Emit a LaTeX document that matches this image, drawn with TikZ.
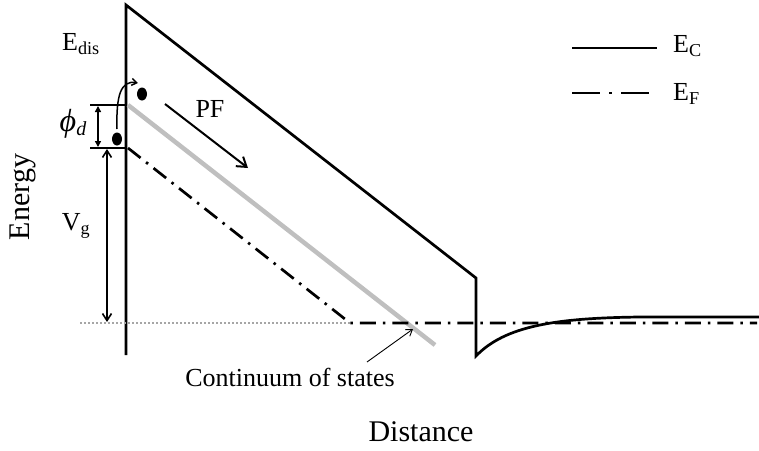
\documentclass[tikz,border=0pt]{standalone}
\usepackage{fontspec}
\setmainfont{Liberation Serif}
\usetikzlibrary{arrows.meta}
\begin{document}
\begin{tikzpicture}[x=1pt,y=-1pt,
  band/.style={line width=2.7pt,line join=miter},
  fermi/.style={line width=2.7pt,dash pattern=on 16pt off 7pt on 2.5pt off 7pt},
  dim/.style={line width=1.8pt},
  lbl/.style={inner sep=0pt,font=\fontsize{26}{28}\selectfont},
  axis/.style={inner sep=0pt,font=\fontsize{30}{32}\selectfont},
  electron/.style={fill=black,draw=none}]
\useasboundingbox (0,0) rectangle (759,450);
% coordinates
\coordinate (wb) at (126,355);
\coordinate (wt) at (126,5);
\coordinate (ecr) at (476,278);
\coordinate (ecb) at (476,356);
\coordinate (ecend) at (759,317);
\coordinate (gs) at (128,105);
\coordinate (ge) at (435,345);
\coordinate (efs) at (128,148);
\coordinate (efk) at (350,323);
\coordinate (efe) at (757,323);
\coordinate (dots) at (80,323);
% conduction band edge
\draw[band] (wb) -- (wt) -- (ecr) -- (ecb) .. controls (505,326) and (555,318) .. (640,317) -- (ecend);
% continuum of states (grey)
\draw[line width=4.5pt,black!25] (gs) -- (ge);
% Fermi level
\draw[gray!70,line width=1.3pt,dash pattern=on 2pt off 2pt] (dots) -- (efk);
\draw[fermi] (efs) -- (efk) -- (efe);
% phi_d dimension
\coordinate (t1a) at (90,105); \coordinate (t1b) at (126,105);
\coordinate (t2a) at (90,148); \coordinate (t2b) at (126,148);
\draw[dim] (t1a) -- (t1b);
\draw[dim] (t2a) -- (t2b);
\coordinate (pa) at (98,106); \coordinate (pb) at (98,147);
\draw[line width=2pt,{Triangle[length=6pt,width=6pt]}-{Triangle[length=6pt,width=6pt]}] (pa) -- (pb);
% Vg dimension
\coordinate (va) at (107,149); \coordinate (vb) at (107,322);
\draw[line width=1.6pt,{Straight Barb[length=7pt,width=9pt]}-{Straight Barb[length=7pt,width=9pt]}] (va) -- (vb);
% electrons
\fill[electron] (142,94) ellipse (5pt and 6.5pt);
\fill[electron] (117,139) ellipse (5pt and 6.5pt);
\coordinate (ca) at (117,129); \coordinate (cb) at (138,83);
\draw[line width=1.5pt,-{Straight Barb[length=5pt,width=7pt]}] (ca) .. controls (116,95) and (121,80) .. (cb);
% PF arrow
\coordinate (pfa) at (165,104); \coordinate (pfb) at (248,168);
\draw[line width=2pt,-{Straight Barb[length=9pt,width=12pt]}] (pfa) -- (pfb);
% labels
\node[lbl] (edis) at (81,44) {E\textsubscript{dis}};
\node[inner sep=0pt,font=\fontsize{32}{34}\selectfont\itshape] (phid) at (73,124) {ϕ\raisebox{-0.12em}{\fontsize{20}{22}\selectfont d}};
\node[lbl] (vg) at (76,226) {V\textsubscript{g}};
\node[axis,rotate=90] (energy) at (23,197) {Energy};
\node[lbl] (pf) at (210,109) {PF};
\node[lbl] (cont) at (290,377) {Continuum of states};
\node[axis] (dist) at (421,432) {Distance};
% continuum arrow
\coordinate (cs) at (367,362);
\coordinate (ce) at (413,329);
\draw[line width=0.9pt,-{Straight Barb[length=6pt,width=8pt]}] (cs) -- (ce);
% legend
\coordinate (l1a) at (572,48); \coordinate (l1b) at (657,48);
\draw[band] (l1a) -- (l1b);
\node[lbl,anchor=west] (ec) at (673,46) {E\textsubscript{C}};
\coordinate (l2a) at (572,93); \coordinate (l2b) at (651,93);
\draw[line width=2.6pt,dash pattern=on 28pt off 9pt on 3pt off 9pt] (l2a) -- (l2b);
\node[lbl,anchor=west] (ef) at (673,94) {E\textsubscript{F}};
\end{tikzpicture}
\end{document}
